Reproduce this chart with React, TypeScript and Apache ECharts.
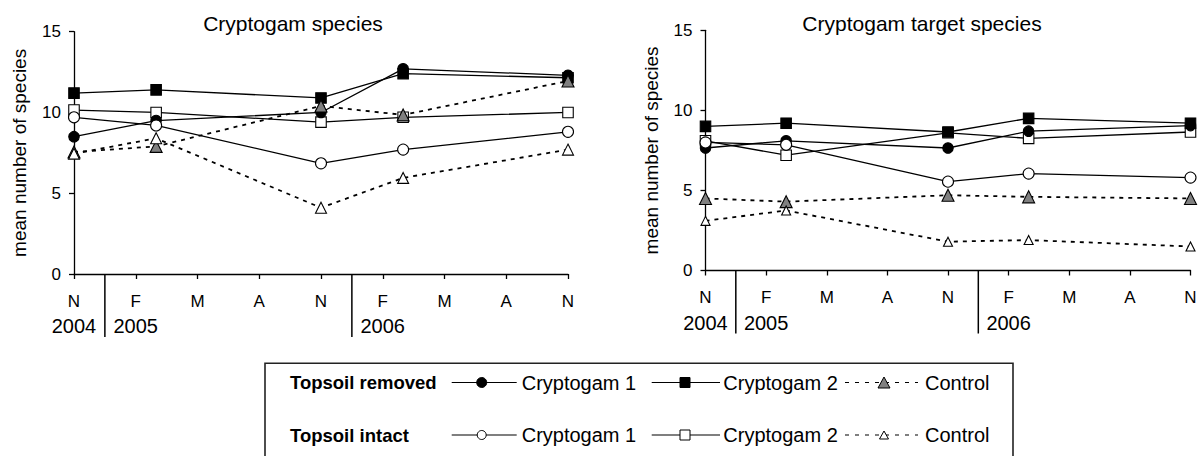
import React, { useEffect, useRef } from "react";
import * as echarts from "echarts";

// Sampling dates on a month-indexed axis (0 = Nov 2004, 8 = Nov 2006)
const SAMPLE_X = [0, 1.33, 4, 5.33, 8];
const MONTH_LABELS = ["N", "F", "M", "A", "N", "F", "M", "A", "N"];
const YEAR_LABELS = ["2004", "2005", "", "", "", "2006", "", "", ""];
const YEAR_BREAKS = [0.5, 4.5];
const PANEL_TITLES = ["Cryptogam species", "Cryptogam target species"];
const Y_NAME = "mean number of species";

// Panel 1: all cryptogam species
const allRemovedC1 = [8.5, 9.5, 10.0, 12.7, 12.3];
const allRemovedC2 = [11.2, 11.4, 10.9, 12.4, 12.15];
const allRemovedCtrl = [7.55, 7.9, 10.4, 9.85, 11.95];
const allIntactC1 = [9.7, 9.2, 6.85, 7.7, 8.8];
const allIntactC2 = [10.15, 10.0, 9.4, 9.7, 10.0];
const allIntactCtrl = [7.45, 8.4, 4.1, 5.95, 7.7];

// Panel 2: cryptogam target species
const targetRemovedC1 = [7.65, 8.1, 7.65, 8.7, 9.05];
const targetRemovedC2 = [9.0, 9.2, 8.65, 9.5, 9.2];
const targetRemovedCtrl = [4.5, 4.3, 4.7, 4.6, 4.5];
const targetIntactC1 = [8.0, 7.85, 5.55, 6.05, 5.8];
const targetIntactC2 = [8.1, 7.2, 8.6, 8.25, 8.65];
const targetIntactCtrl = [3.1, 3.75, 1.8, 1.9, 1.5];

const FONT = "'Liberation Sans', Arial, Helvetica, sans-serif";
const DOTTED: number[] = [4, 5];

type Look = {
  name: string;
  symbol: string;
  size: number;
  fill: string;
  dotted: boolean;
};

const LOOKS: Record<string, Look> = {
  removedC1: { name: "Cryptogam 1", symbol: "circle", size: 10.5, fill: "#000", dotted: false },
  removedC2: { name: "Cryptogam 2", symbol: "rect", size: 10.5, fill: "#000", dotted: false },
  removedCtrl: { name: "Control", symbol: "triangle", size: 12, fill: "#808080", dotted: true },
  intactC1: { name: "Cryptogam 1", symbol: "circle", size: 11, fill: "#fff", dotted: false },
  intactC2: { name: "Cryptogam 2", symbol: "rect", size: 10.5, fill: "#fff", dotted: false },
  intactCtrl: { name: "Control", symbol: "triangle", size: 11, fill: "#fff", dotted: true },
};

const PANELS = [
  {
    grid: { left: 74, top: 31.7, width: 494, height: 242.3 },
    title: { x: 293, y: 23 },
    openTriangle: 11,
    data: {
      removedC1: allRemovedC1,
      removedC2: allRemovedC2,
      removedCtrl: allRemovedCtrl,
      intactC1: allIntactC1,
      intactC2: allIntactC2,
      intactCtrl: allIntactCtrl,
    } as Record<string, number[]>,
  },
  {
    grid: { left: 705.5, top: 30.3, width: 485, height: 240.2 },
    title: { x: 922, y: 23 },
    openTriangle: 9,
    data: {
      removedC1: targetRemovedC1,
      removedC2: targetRemovedC2,
      removedCtrl: targetRemovedCtrl,
      intactC1: targetIntactC1,
      intactC2: targetIntactC2,
      intactCtrl: targetIntactCtrl,
    } as Record<string, number[]>,
  },
];

// Drawing order so the later markers sit on top
const DRAW_ORDER = ["intactC2", "removedC1", "removedC2", "intactC1", "removedCtrl", "intactCtrl"];

function buildOption(): any {
  const grids = PANELS.map((p) => ({ ...p.grid, outerBoundsMode: "none" }));
  const xAxes = PANELS.map((_, i) => ({
    type: "value",
    gridIndex: i,
    min: 0,
    max: 8,
    interval: 1,
    splitLine: { show: false },
    axisLine: { lineStyle: { color: "#000", width: 1.3 } },
    axisTick: { show: true, inside: false, length: 5, lineStyle: { color: "#000", width: 1.3 } },
    axisLabel: {
      margin: 15,
      color: "#000",
      formatter: (v: number) => {
        const idx = Math.round(v);
        const m = MONTH_LABELS[idx] ?? "";
        const yr = YEAR_LABELS[idx] ?? "";
        return yr ? `{m|${m}}\n{y|${yr}}` : `{m|${m}}`;
      },
      rich: {
        m: { fontSize: 17, lineHeight: 24, fontFamily: FONT, color: "#000" },
        y: { fontSize: 20, lineHeight: 26, fontFamily: FONT, color: "#000" },
      },
    },
  }));
  const yAxes = PANELS.map((_, i) => ({
    type: "value",
    gridIndex: i,
    min: 0,
    max: 15,
    interval: 5,
    name: Y_NAME,
    nameLocation: "middle",
    nameRotate: 90,
    nameGap: 45,
    nameTextStyle: { fontSize: 19, color: "#000", fontFamily: FONT },
    splitLine: { show: false },
    axisLine: { show: true, lineStyle: { color: "#000", width: 1.3 } },
    axisTick: { show: true, inside: false, length: 5, lineStyle: { color: "#000", width: 1.3 } },
    axisLabel: { margin: 13, fontSize: 17, color: "#000", fontFamily: FONT },
  }));

  const series: any[] = [];
  PANELS.forEach((p, gi) => {
    DRAW_ORDER.forEach((key, oi) => {
      const look = LOOKS[key];
      const values = p.data[key];
      const size = key === "intactCtrl" ? p.openTriangle : look.size;
      series.push({
        type: "line",
        name: look.name,
        xAxisIndex: gi,
        yAxisIndex: gi,
        z: 2 + oi,
        data: SAMPLE_X.map((x, i) => [x, values[i]]),
        symbol: look.symbol,
        symbolSize: size,
        showSymbol: true,
        lineStyle: {
          color: "#000",
          width: look.dotted ? 1.8 : 1.3,
          type: look.dotted ? DOTTED : "solid",
        },
        itemStyle: { color: look.fill, borderColor: "#000", borderWidth: 1.1, opacity: 1 },
      });
    });
  });

  return {
    animation: false,
    backgroundColor: "#fff",
    textStyle: { fontFamily: FONT },
    grid: grids,
    xAxis: xAxes,
    yAxis: yAxes,
    series,
  };
}

// Legend layout: a row per topsoil treatment
const LEGEND_BOX = { x: 265, y: 363.3, width: 748, height: 120 };
const LEGEND_ROWS = [
  { label: "Topsoil removed", y: 382.5, keys: ["removedC1", "removedC2", "removedCtrl"] },
  { label: "Topsoil intact", y: 435, keys: ["intactC1", "intactC2", "intactCtrl"] },
];
const LEGEND_SLOTS = [
  { x0: 451.7, x1: 516.7, mx: 481.7, tx: 521.7 },
  { x0: 651.7, x1: 720, mx: 685, tx: 723.3 },
  { x0: 845, x1: 918, mx: 884, tx: 925 },
];

function legendMarker(key: string, cx: number, cy: number): any {
  const look = LOOKS[key];
  const style = { fill: look.fill, stroke: "#000", lineWidth: 1 };
  if (look.symbol === "circle") {
    const r = key === "intactC1" ? 4.5 : 5;
    return { type: "circle", shape: { cx, cy, r }, style, z: 20 };
  }
  if (look.symbol === "rect") {
    const s = 10;
    return { type: "rect", shape: { x: cx - s / 2, y: cy - s / 2, width: s, height: s }, style, z: 20 };
  }
  const w = key === "intactCtrl" ? 9 : 12;
  const h = key === "intactCtrl" ? 8 : 11;
  return {
    type: "polygon",
    shape: { points: [[cx, cy - h / 2], [cx + w / 2, cy + h / 2], [cx - w / 2, cy + h / 2]] },
    style,
    z: 20,
  };
}

function buildGraphics(chart: echarts.ECharts): any[] {
  const els: any[] = [];
  PANELS.forEach((p, gi) => {
    els.push({
      type: "text",
      x: p.title.x,
      y: p.title.y,
      style: {
        text: PANEL_TITLES[gi],
        fontSize: 21,
        fontFamily: FONT,
        fill: "#000",
        align: "center",
        verticalAlign: "middle",
      },
    });
    YEAR_BREAKS.forEach((bx) => {
      const pt = chart.convertToPixel({ gridIndex: gi } as any, [bx, 0]) as number[];
      els.push({
        type: "line",
        shape: { x1: pt[0], y1: pt[1], x2: pt[0], y2: pt[1] + 63 },
        style: { stroke: "#000", lineWidth: 1.5 },
      });
    });
  });

  els.push({
    type: "rect",
    shape: { ...LEGEND_BOX },
    style: { fill: "none", stroke: "#222", lineWidth: 1.6 },
  });
  LEGEND_ROWS.forEach((row) => {
    els.push({
      type: "text",
      x: 290,
      y: row.y,
      style: {
        text: row.label,
        fontSize: 18.5,
        fontWeight: "bold",
        fontFamily: FONT,
        fill: "#000",
        align: "left",
        verticalAlign: "middle",
      },
    });
    row.keys.forEach((key, si) => {
      const slot = LEGEND_SLOTS[si];
      const look = LOOKS[key];
      els.push({
        type: "line",
        shape: { x1: slot.x0, y1: row.y, x2: slot.x1, y2: row.y },
        style: { stroke: "#000", lineWidth: 1.2, lineDash: look.dotted ? [4, 6] : null },
      });
      els.push(legendMarker(key, slot.mx, row.y));
      els.push({
        type: "text",
        x: slot.tx,
        y: row.y,
        style: {
          text: look.name,
          fontSize: 20,
          fontFamily: FONT,
          fill: "#000",
          align: "left",
          verticalAlign: "middle",
        },
      });
    });
  });
  return els;
}

export default function App() {
  const ref = useRef<HTMLDivElement>(null);
  useEffect(() => {
    if (!ref.current) return;
    const chart = echarts.init(ref.current, undefined, { renderer: "svg" });
    chart.setOption(buildOption());
    chart.setOption({ graphic: { elements: buildGraphics(chart) } });
    return () => chart.dispose();
  }, []);
  return (
    <div
      ref={ref}
      style={{ position: "fixed", left: 0, top: 0, width: 1203, height: 456, background: "#fff" }}
    />
  );
}
